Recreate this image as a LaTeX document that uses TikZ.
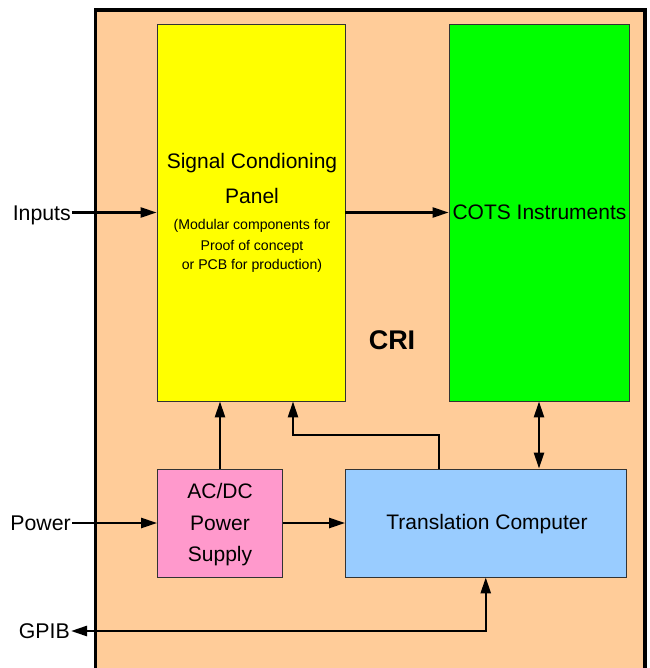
\documentclass[tikz,border=0pt]{standalone}
\usepackage{fontspec}
\setmainfont{Liberation Sans}
\usetikzlibrary{arrows.meta}
\definecolor{peach}{HTML}{FFCC99}
\definecolor{pinkbox}{HTML}{FF99CC}
\definecolor{bluebox}{HTML}{99CCFF}
\definecolor{greenbox}{HTML}{00FF00}
\definecolor{yellowbox}{HTML}{FFFF00}
\begin{document}
\begin{tikzpicture}[x=1pt,y=-1pt,
  box/.style={draw=black!80, line width=0.8pt, inner sep=0pt},
  bigtxt/.style={anchor=base, inner sep=0pt, font=\fontsize{21}{24}\selectfont},
  smalltxt/.style={anchor=base, inner sep=0pt, font=\fontsize{14.1}{16}\selectfont},
  sidelbl/.style={anchor=base east, inner sep=1pt, font=\fontsize{21.3}{24}\selectfont},
  conn/.style={line width=2.5pt, -{Triangle[length=16pt,width=10pt]}},
  dconn/.style={line width=2.5pt, {Triangle[length=16pt,width=10pt]}-{Triangle[length=16pt,width=10pt]}}
]
\useasboundingbox (0,0) rectangle (649,668);
% outer CRI frame
\fill[peach] (95.5,10) rectangle (645,668);
\draw[line width=3.2pt] (95.5,670) -- (95.5,10) -- (645,10) -- (645,670);

% boxes
\node[box, fill=yellowbox, minimum width=188pt, minimum height=377pt] (scp) at (251,212.5) {};
\node[box, fill=greenbox, minimum width=180pt, minimum height=377pt] (cots) at (539,212.5) {};
\node[box, fill=pinkbox, minimum width=125pt, minimum height=108pt] (psu) at (220,523) {};
\node[box, fill=bluebox, minimum width=280.5pt, minimum height=108pt] (tc) at (485.75,523) {};

% texts
\node[bigtxt] (t1) at (252,169) {Signal Condioning};
\node[bigtxt] (t2) at (252,204) {Panel};
\node[smalltxt] (t3) at (252,229) {(Modular components for};
\node[smalltxt] (t4) at (252,250) {Proof of concept};
\node[smalltxt] (t5) at (252,269) {or PCB for production)};
\node[bigtxt] (t6) at (539.5,219) {COTS Instruments};
\node[anchor=base, inner sep=0pt, font=\fontsize{27}{30}\selectfont\bfseries] (cri) at (392,349) {CRI};
\node[bigtxt] (t7) at (220,498) {AC/DC};
\node[bigtxt] (t8) at (220,530) {Power};
\node[bigtxt] (t9) at (220,561) {Supply};
\node[bigtxt] (t10) at (487,529) {Translation Computer};

% side labels
\node[sidelbl] (inputs) at (72,220) {Inputs};
\node[sidelbl] (power) at (72,530) {Power};
\node[sidelbl] (gpib) at (71,638) {GPIB};

% connectors
\coordinate (j1) at (293,435);
\coordinate (g1) at (485.75,631);
\draw[conn] (inputs.east |- scp.west) -- (scp.west);
\draw[conn] (scp.east) -- (cots.west);
\draw[conn] (power.east |- psu.west) -- (psu.west);
\draw[conn] (psu.east) -- (tc.west);
\draw[conn] (psu.north) -- (psu.north |- scp.south);
\draw[conn] ([xshift=-47pt]tc.north) |- (j1) -- (j1 |- scp.south);
\draw[dconn] (cots.south) -- (cots.south |- tc.north);
\draw[dconn] (gpib.east |- g1) -| (tc.south);
\end{tikzpicture}
\end{document}
